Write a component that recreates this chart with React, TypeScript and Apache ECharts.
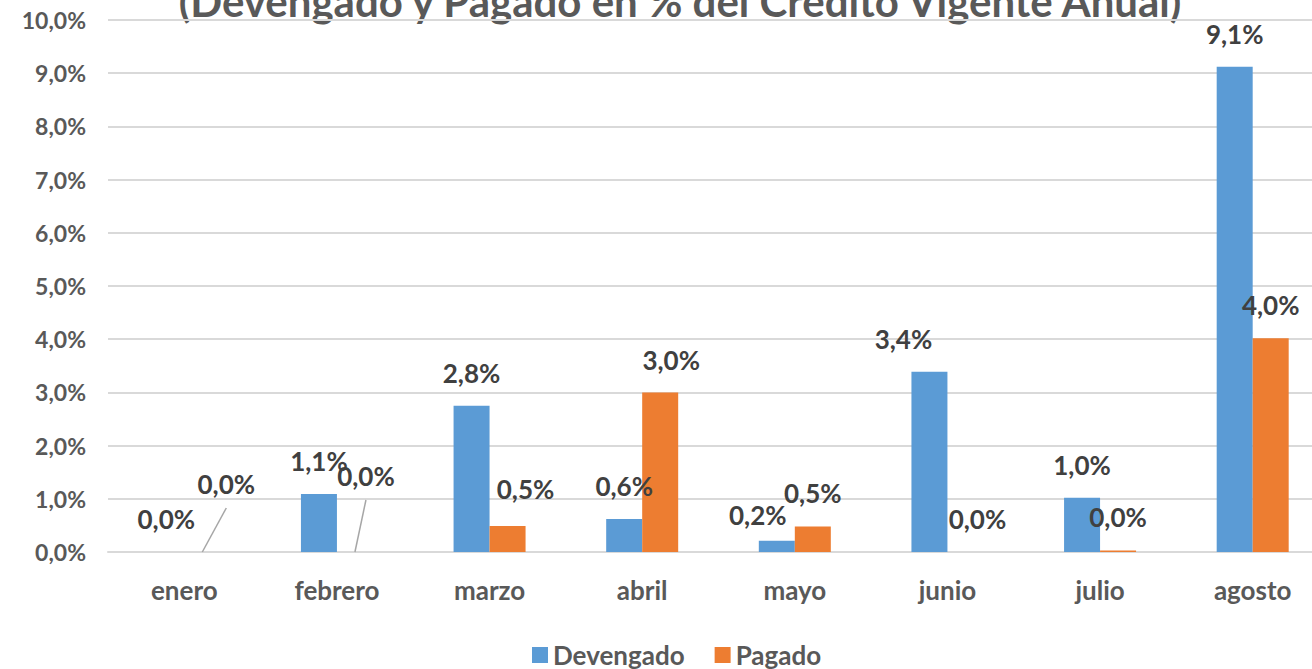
import React, { useEffect, useRef } from "react";
import * as echarts from "echarts";

const categories = ["enero", "febrero", "marzo", "abril", "mayo", "junio", "julio", "agosto"];
const devengado = [0.0, 1.09, 2.75, 0.62, 0.21, 3.39, 1.02, 9.12];
const pagado = [0.0, 0.0, 0.49, 3.0, 0.48, 0.0, 0.03, 4.02];
const yTicks = { min: 0, max: 10, interval: 1 };
const titleText = "(Devengado y Pagado en % del Crédito Vigente Anual)";

// label adjustments (style only): [dx, dy]
const devLabelShift: Record<number, [number, number]> = { 4: [-19, 7], 5: [-26, 0] };
const pagLabelShift: Record<number, [number, number]> = {
  0: [24, -35],
  1: [11, -43],
  2: [18, -4],
  3: [11, 1],
  5: [12, 0],
};
const leaderIdx = [0, 1];

const FONT = "Lato, 'Noto Sans', sans-serif";
const BAR_W = 36;
const LABEL_DIST = 20;
const fmt = (v: number) => v.toFixed(1).replace(".", ",") + "%";

export default function App() {
  const ref = useRef<HTMLDivElement>(null);
  useEffect(() => {
    if (!ref.current) return;
    const chart = echarts.init(ref.current, undefined, { renderer: "svg" });
    const labelBase = {
      show: true,
      position: "top" as const,
      distance: LABEL_DIST,
      fontFamily: FONT,
      fontWeight: "bold" as const,
      fontSize: 26,
      color: "#404040",
      formatter: (p: any) => fmt(p.value),
    };
    const makeLayout = (shift: Record<number, [number, number]>) => (p: any) => {
      const s = shift[p.dataIndex];
      return s ? { dx: s[0], dy: s[1] } : {};
    };
    const titleGraphic = {
      id: "title",
      type: "text",
      x: 680,
      y: 22,
      style: {
        text: titleText,
        fontFamily: FONT,
        fontWeight: "bold",
        fontSize: 42,
        fill: "#595959",
        textAlign: "center",
        textVerticalAlign: "bottom",
      },
    };
    chart.setOption({
      animation: false,
      textStyle: { fontFamily: FONT },
      graphic: [titleGraphic],
      grid: { left: 108, right: 1, top: 20, bottom: 117 },
      legend: {
        top: 637,
        left: 527,
        itemWidth: 16,
        itemHeight: 16,
        itemGap: 30,
        icon: "rect",
        textStyle: { fontFamily: FONT, fontWeight: "bold", fontSize: 26, lineHeight: 26, color: "#595959" },
        data: ["Devengado", "Pagado"],
      },
      xAxis: {
        type: "category",
        data: categories,
        axisLine: { show: true, lineStyle: { color: "#d9d9d9", width: 2 } },
        axisTick: { show: false },
        axisLabel: { fontFamily: FONT, fontWeight: "bold", fontSize: 26, color: "#595959", margin: 25 },
      },
      yAxis: {
        type: "value",
        min: yTicks.min,
        max: yTicks.max,
        interval: yTicks.interval,
        axisLine: { show: false },
        axisTick: { show: false },
        splitLine: { lineStyle: { color: "#d9d9d9", width: 2 } },
        axisLabel: {
          fontFamily: FONT,
          fontWeight: "bold",
          fontSize: 23,
          color: "#595959",
          margin: 22,
          formatter: (v: number) => fmt(v),
        },
      },
      series: [
        {
          name: "Devengado",
          type: "bar",
          barWidth: BAR_W,
          barGap: "0%",
          itemStyle: { color: "#5b9bd5" },
          label: labelBase,
          data: devengado,
          labelLayout: makeLayout(devLabelShift),
        },
        {
          name: "Pagado",
          type: "bar",
          barWidth: BAR_W,
          barGap: "0%",
          itemStyle: { color: "#ed7d31" },
          label: labelBase,
          data: pagado,
          labelLayout: makeLayout(pagLabelShift),
        },
      ],
    });
    // leader lines for moved Pagado labels, positioned from the axes' scales
    const lines = leaderIdx.map((i) => {
      const [cx, cy] = chart.convertToPixel({ gridIndex: 0 }, [i, pagado[i]]) as number[];
      const sx = cx + BAR_W / 2;
      const s = pagLabelShift[i];
      const labelCenterY = cy - LABEL_DIST - 12 + s[1];
      return {
        id: "leader" + i,
        type: "line",
        shape: { x1: sx, y1: cy, x2: sx + s[0], y2: labelCenterY + 23 },
        style: { stroke: "#a6a6a6", lineWidth: 1.5 },
        z: 5,
      };
    });
    chart.setOption({ graphic: [titleGraphic, ...lines] });
    return () => chart.dispose();
  }, []);
  return (
    <div style={{ position: "absolute", left: 0, top: 0, width: 1312, height: 669, overflow: "hidden", background: "#fff" }}>
      <div ref={ref} style={{ width: 1330, height: 669 }} />
    </div>
  );
}
